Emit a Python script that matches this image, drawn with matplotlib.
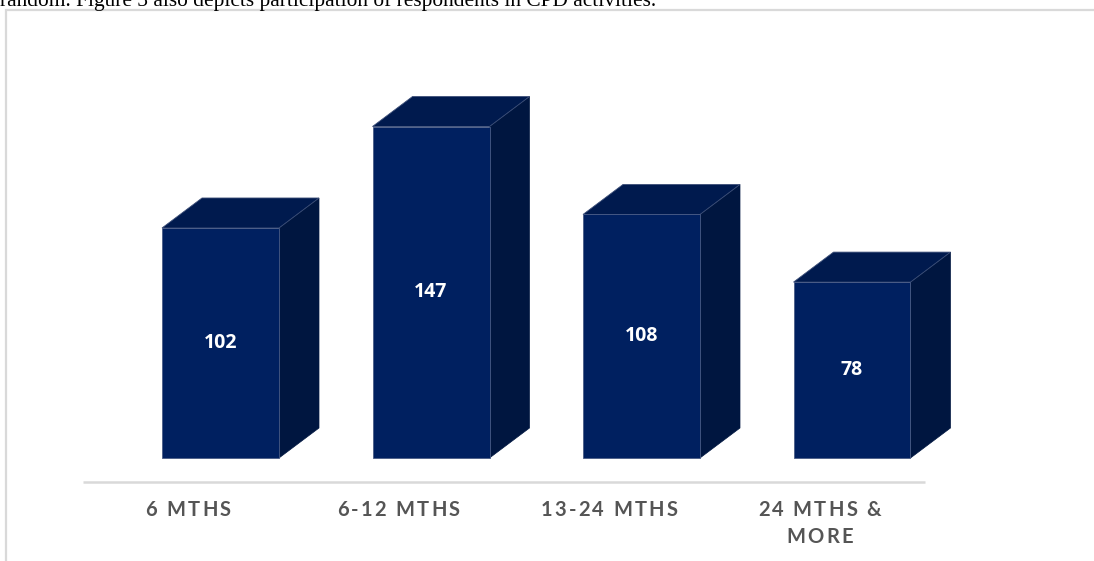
import matplotlib
matplotlib.use("Agg")
import matplotlib.pyplot as plt
from matplotlib.patches import Polygon, Rectangle
from matplotlib import font_manager
from matplotlib.ft2font import FT2Font

# data
categories = ["6 MTHS", "6-12 MTHS", "13-24 MTHS", "24 MTHS &\nMORE"]
counts = [102, 147, 108, 78]

# colours of the box faces
FRONT = "#002060"
TOP = "#001a4e"
SIDE = "#001640"
LABEL_GREY = "#555555"

W, H, DPI = 1094, 561, 100
px_x = 210.5          # pixels per category
px_y = 2.255          # pixels per count
x_orig, y_orig = 188, 458   # pixel position of category 0 / count 0

fig = plt.figure(figsize=(W / DPI, H / DPI), dpi=DPI)
ax = fig.add_axes([0, 0, 1, 1])
ax.set_xlim(-x_orig / px_x, (W - x_orig) / px_x)
ax.set_ylim(-(H - y_orig) / px_y, y_orig / px_y)
ax.axis("off")

bar_w = 117 / px_x
shift = 32.5 / px_x       # front faces sit right of the floor centres
dx = 40 / px_x
dy = 30 / px_y


def spaced_text(x, y, s, size, track, **kw):
    # draw a string one glyph at a time with extra letter spacing
    prop = font_manager.FontProperties(family="Lato", weight="bold", size=size)
    font = FT2Font(font_manager.findfont(prop))
    font.set_size(size, 72)
    adv = [font.load_char(ord(c)).linearHoriAdvance / 65536 for c in s]
    total = sum(adv) + track * (len(s) - 1)
    off = -total / 2
    for c, a in zip(s, adv):
        ax.annotate(c, (x, y), xytext=(off, 0), textcoords="offset points",
                    ha="left", va="baseline", fontproperties=prop, **kw)
        off += a + track


for i, v in enumerate(counts):
    xc = i + shift
    x0, x1 = xc - bar_w / 2, xc + bar_w / 2
    side = [(x1, 0), (x1 + dx, dy), (x1 + dx, v + dy), (x1, v)]
    top = [(x0, v), (x1, v), (x1 + dx, v + dy), (x0 + dx, v + dy)]
    front = [(x0, 0), (x1, 0), (x1, v), (x0, v)]
    ax.add_patch(Polygon(side, closed=True, fc=SIDE, ec=SIDE, lw=0.5))
    ax.add_patch(Polygon(top, closed=True, fc=TOP, ec="#3d4f78", lw=0.6))
    ax.add_patch(Polygon(front, closed=True, fc=FRONT, ec="#4a5c86", lw=0.6))
    ax.text(xc, v / 2, str(v), ha="center", va="center", color="white",
            fontsize=14, fontweight="bold", family="Open Sans")

# floor edge / category axis
ax.plot([-0.5, len(counts) - 0.5], [-10.5, -10.5], color="#d9d9d9", lw=1.8,
        solid_capstyle="butt")

for i, lab in enumerate(categories):
    for k, line in enumerate(lab.split("\n")):
        spaced_text(i, -25.7 - k * 12.0, line, 14.5, 1.6, color=LABEL_GREY)

# frame around the figure and the line of body text above it
fig.add_artist(Rectangle((6 / W, -0.05), 1.2, 1 - 10 / H + 0.05,
                         transform=fig.transFigure, fill=False,
                         ec="#d9d9d9", lw=1.6))
fig.text(0, 1 - 6 / H, "random. Figure 3 also depicts participation of "
         "respondents in CPD activities.", family="Liberation Serif",
         fontsize=15.4, ha="left", va="baseline", color="black")

fig.savefig("out.png", dpi=DPI)
